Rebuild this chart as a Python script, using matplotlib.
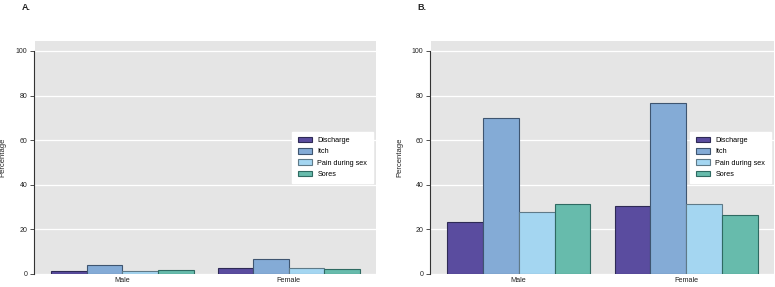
import numpy as np
import matplotlib.pyplot as plt

plt.rcParams['font.family'] = ['Liberation Sans', 'DejaVu Sans']

groups = ['Male', 'Female']
symptoms = ['Discharge', 'Itch', 'Pain during sex', 'Sores']
colors = ['#5a4c9f', '#84abd6', '#a4d6f1', '#67bbac']
edges = ['#2e2a55', '#3f5570', '#5f7a88', '#2f6a62']

# panel A: percentages by sex
vals_a = {
    'Discharge': [1.3, 2.7],
    'Itch': [3.9, 6.7],
    'Pain during sex': [1.5, 2.7],
    'Sores': [1.6, 2.2],
}
# panel B
vals_b = {
    'Discharge': [23.1, 30.7],
    'Itch': [70.1, 76.9],
    'Pain during sex': [27.6, 31.5],
    'Sores': [31.2, 26.4],
}

fig = plt.figure(figsize=(7.75, 2.87), dpi=100)
ax_a = fig.add_axes([0.0452, 0.0453, 0.440, 0.812])
ax_b = fig.add_axes([0.5561, 0.0453, 0.4426, 0.812])


def draw_panel(ax, vals, label, ylab_x):
    x = np.arange(len(groups))
    w = 0.214
    for i, s in enumerate(symptoms):
        ax.bar(x + (i - 1.5) * w, vals[s], width=w, color=colors[i],
               edgecolor=edges[i], linewidth=0.8, label=s, zorder=3)
    ax.set_facecolor('#e5e5e5')
    ax.set_xlim(-0.524, 1.524)
    ax.set_ylim(0, 104.5)
    ax.set_yticks([0, 20, 40, 60, 80, 100])
    ax.set_xticks(x)
    ax.set_xticklabels(groups)
    ax.tick_params(axis='x', length=0, labelsize=5.2, pad=2.5, colors='#222222')
    ax.tick_params(axis='y', length=3, width=0.6, labelsize=5, pad=1.5,
                   color='#333333', labelcolor='#222222')
    ax.yaxis.grid(True, color='white', linewidth=0.9, zorder=0)
    ax.set_axisbelow(True)
    for sp in ['top', 'right', 'bottom']:
        ax.spines[sp].set_visible(False)
    ax.spines['left'].set_bounds(0, 100)
    ax.spines['left'].set_color('#333333')
    ax.spines['left'].set_linewidth(0.8)
    ax.spines['left'].set_position(('outward', 1))
    ax.set_ylabel('Percentage', fontsize=5.5, color='#222222')
    ax.yaxis.set_label_coords(ylab_x, 0.5)
    leg = ax.legend(loc='center right', bbox_to_anchor=(0.99, 0.5),
                    fontsize=5.2, frameon=True, fancybox=False,
                    handlelength=2.0, handleheight=0.75, labelspacing=0.55,
                    borderpad=0.75, handletextpad=0.7, borderaxespad=0)
    leg.get_frame().set_facecolor('white')
    leg.get_frame().set_edgecolor('white')
    leg.get_frame().set_alpha(1)
    ax.text(-0.04, 1.145, label, transform=ax.transAxes, fontsize=6.5,
            fontweight='bold', ha='left', va='center', color='#222222')


draw_panel(ax_a, vals_a, 'A.', -0.083)
draw_panel(ax_b, vals_b, 'B.', -0.080)

fig.savefig('out.png', dpi=100)
